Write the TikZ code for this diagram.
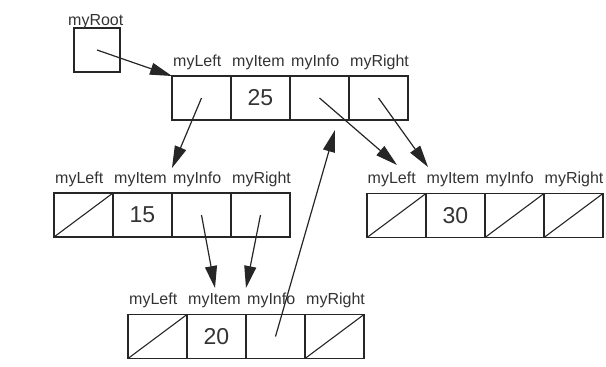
\documentclass[tikz,border=0pt]{standalone}
\usepackage{fontspec}
\setmainfont{Liberation Sans}
\usetikzlibrary{arrows.meta}

\begin{document}
\begin{tikzpicture}[x=1pt, y=-1pt,
  cell/.style={draw=black!85, line width=1.1pt, minimum width=59pt, minimum height=44pt, inner sep=0pt, outer sep=0pt},
  field/.style={anchor=base west, inner sep=0pt, font=\fontsize{16}{19}\selectfont, text=black!80},
  item/.style={font=\fontsize{23}{27}\selectfont, text=black!80},
  nullptr/.style={draw=black!85, line width=1.1pt},
  ptr/.style={draw=black!85, line width=1.2pt, -{Triangle[length=22pt, width=12pt]}}]
  \useasboundingbox (0,0) rectangle (606,367);

  % Root pointer
  \node[cell, minimum width=46pt] (root) at (97,50) {};
  \node[field] (rootlbl) at (68,25) {myRoot};

  % Record holding 25
  \foreach \f [count=\i from 0] in {myLeft,myItem,myInfo,myRight} {
    \node[cell] (r25-\f) at (201.5+59*\i, 98) {};
    \node[field] at ([xshift=1pt, yshift=10pt]r25-\f.north west) {\f};
  }
  \node[item] at (r25-myItem) {25};

  % Record holding 15
  \foreach \f [count=\i from 0] in {myLeft,myItem,myInfo,myRight} {
    \node[cell] (r15-\f) at (83.5+59*\i, 215) {};
    \node[field] at ([xshift=1pt, yshift=10pt]r15-\f.north west) {\f};
  }
  \node[item] at (r15-myItem) {15};
  \draw[nullptr] (r15-myLeft.south west) -- (r15-myLeft.north east);

  % Record holding 30
  \foreach \f [count=\i from 0] in {myLeft,myItem,myInfo,myRight} {
    \node[cell] (r30-\f) at (396.5+59*\i, 215.5) {};
    \node[field] at ([xshift=0.5pt, yshift=10pt]r30-\f.north west) {\f};
  }
  \node[item] at (r30-myItem) {30};
  \draw[nullptr] (r30-myLeft.south west) -- (r30-myLeft.north east);
  \draw[nullptr] (r30-myInfo.south west) -- (r30-myInfo.north east);
  \draw[nullptr] (r30-myRight.south west) -- (r30-myRight.north east);

  % Record holding 20
  \foreach \f [count=\i from 0] in {myLeft,myItem,myInfo,myRight} {
    \node[cell] (r20-\f) at (157.5+59*\i, 336.5) {};
    \node[field] at ([xshift=1pt, yshift=10pt]r20-\f.north west) {\f};
  }
  \node[item] at (r20-myItem) {20};
  \draw[nullptr] (r20-myLeft.south west) -- (r20-myLeft.north east);
  \draw[nullptr] (r20-myRight.south west) -- (r20-myRight.north east);

  % Pointer ends
  \coordinate (to15) at (172,168);
  \coordinate (to30a) at (397,165);
  \coordinate (to30b) at (428,167);
  \coordinate (to20a) at (215,288);
  \coordinate (to20b) at (246,288);
  \coordinate (to25) at (335,130);

  % Pointers
  \draw[ptr] (root.center) -- (r25-myLeft.north west);
  \draw[ptr] (r25-myLeft.center) -- (to15);
  \draw[ptr] (r25-myInfo.center) -- (to30a);
  \draw[ptr] (r25-myRight.center) -- (to30b);
  \draw[ptr] (r15-myInfo.center) -- (to20a);
  \draw[ptr] (r15-myRight.center) -- (to20b);
  \draw[ptr] (r20-myInfo.center) -- (to25);
\end{tikzpicture}
\end{document}
